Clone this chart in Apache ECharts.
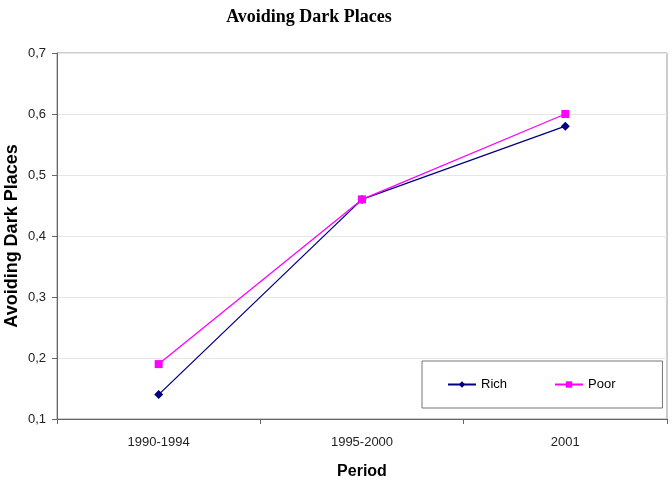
<!DOCTYPE html>
<html>
<head>
<meta charset="utf-8">
<script src="https://cdn.jsdelivr.net/npm/echarts@6/dist/echarts.min.js"></script>
<style>html,body{margin:0;padding:0;background:#fff}#c{width:672px;height:496px}</style>
</head>
<body>
<div id="c"></div>
<script>
var categories = ['1990-1994', '1995-2000', '2001'];
var rich = [0.14, 0.46, 0.58];
var poor = [0.19, 0.46, 0.60];
var yTicks = [0.1, 0.7, 0.1]; // min, max, interval

var chart = echarts.init(document.getElementById('c'), null, {renderer: 'canvas'});
var font = 'Liberation Sans, Arial, sans-serif';
chart.setOption({
  animation: false,
  backgroundColor: '#fff',
  title: {
    text: 'Avoiding Dark Places',
    left: 304, textAlign: 'center', top: 3,
    textStyle: {fontFamily: 'Liberation Serif, Times New Roman, serif', fontWeight: 'bold', fontSize: 18, color: '#000'}
  },
  grid: {left: 57, right: 5, top: 53, bottom: 77, show: true, borderColor: '#999', borderWidth: 1,
         containLabel: false, outerBoundsMode: 'none'},
  legend: {
    left: 422, top: 361,
    padding: [17, 47, 17, 25],
    itemGap: 47, itemWidth: 28, itemHeight: 8,
    borderColor: '#777', borderWidth: 1,
    textStyle: {fontFamily: font, fontSize: 13, color: '#000'},
    data: ['Rich', 'Poor']
  },
  xAxis: {
    type: 'category', data: categories, boundaryGap: true,
    name: 'Period', nameLocation: 'middle', nameGap: 45, nameMoveOverlap: false,
    nameTextStyle: {fontFamily: font, fontWeight: 'bold', fontSize: 16, color: '#000'},
    axisLine: {lineStyle: {color: '#666', width: 1}},
    axisTick: {show: true, length: 5, lineStyle: {color: '#666'}},
    axisLabel: {fontFamily: font, fontSize: 13, color: '#222', margin: 17},
    splitLine: {show: false}
  },
  yAxis: {
    type: 'value', min: yTicks[0], max: yTicks[1], interval: yTicks[2],
    name: 'Avoiding Dark Places', nameLocation: 'middle', nameGap: 36, nameMoveOverlap: false,
    nameTextStyle: {fontFamily: font, fontWeight: 'bold', fontSize: 18, color: '#000'},
    axisLine: {show: true, lineStyle: {color: '#666', width: 1}},
    axisTick: {show: true, length: 5, lineStyle: {color: '#666'}},
    axisLabel: {fontFamily: font, fontSize: 13, color: '#222', margin: 11,
      formatter: function (v) { return v.toFixed(1).replace('.', ','); }},
    splitLine: {show: true, lineStyle: {color: '#e6e6e6', width: 1}}
  },
  series: [
    {name: 'Rich', type: 'line', data: rich, symbol: 'diamond', symbolSize: 9,
     itemStyle: {color: '#000080'}, lineStyle: {color: '#000080', width: 1.3}},
    {name: 'Poor', type: 'line', data: poor, symbol: 'rect', symbolSize: 8,
     itemStyle: {color: '#ff00ff'}, lineStyle: {color: '#ff00ff', width: 1.3}}
  ]
});
</script>
</body>
</html>
